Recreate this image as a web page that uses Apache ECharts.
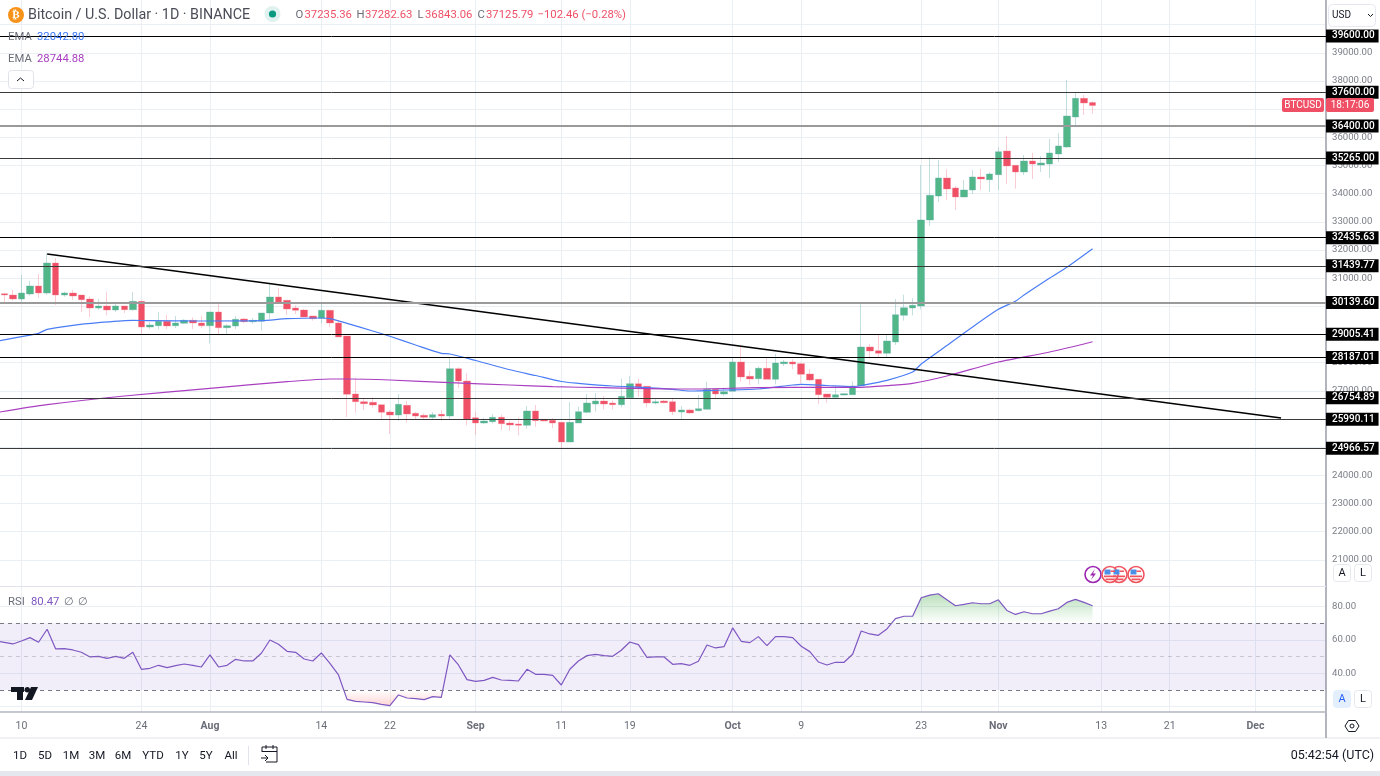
<!DOCTYPE html>
<html>
<head>
<meta charset="utf-8">
<title>BTCUSD</title>
<style>
  html, body { margin: 0; padding: 0; background: #fff; }
  #chart { width: 1380px; height: 776px; }
</style>
<script src="https://cdn.jsdelivr.net/npm/echarts@6/dist/echarts.min.js"></script>
</head>
<body>
<div id="chart"></div>
<script>
// x axis is days counted from 10 Jul 2023, the first candle is 8 Jul
const firstDay = -2
const tickDays = [0, 14, 22, 35, 43, 53, 63, 71, 83, 91, 105, 114, 126, 134, 144]
const tickLabels = ['10', '24', 'Aug', '14', '22', 'Sep', '11', '19', 'Oct', '9', '23', 'Nov', '13', '21', 'Dec']
const priceTicks = [21000, 22000, 23000, 24000, 25000, 26000, 27000, 28000, 29000, 30000, 31000, 32000, 33000, 34000, 35000, 36000, 37000, 38000, 39000, 40000]
const rsiTicks = [20, 40, 60, 80]
const rsiTickLabels = [40, 60, 80]
const levels = [39600, 37600, 36400, 35265, 32435.63, 31439.77, 30139.6, 29005.41, 28187.01, 26754.89, 25990.11, 24966.57]

// open, close, low, high
const candles = [
  [30450, 30403, 30131, 30470], [30403, 30261, 30202, 30580], [30261, 30474, 30107, 31113], [30439, 30722, 30379, 30900],
  [30722, 30474, 30308, 31148], [30474, 31539, 30403, 31882], [31539, 30403, 30048, 31716], [30403, 30474, 30344, 30521],
  [30474, 30368, 30226, 30580], [30403, 30237, 29800, 30403], [30261, 29942, 29622, 30344], [29942, 30013, 29871, 30261],
  [30013, 29871, 29681, 30521], [29871, 30013, 29800, 30155], [30013, 29883, 29764, 30013], [29883, 30178, 29847, 30510],
  [30178, 29267, 29019, 30178], [29267, 29338, 29196, 29445], [29315, 29469, 29185, 29800], [29469, 29303, 29196, 29693],
  [29315, 29409, 29232, 29658], [29397, 29504, 29374, 29540], [29504, 29409, 29196, 29610], [29409, 29315, 29232, 29658],
  [29315, 29800, 28688, 29800], [29800, 29244, 29019, 30131], [29244, 29315, 29019, 29374], [29303, 29540, 29196, 29658],
  [29551, 29457, 29397, 29587], [29457, 29504, 29374, 29587], [29469, 29764, 29137, 29764], [29764, 30332, 29540, 30793],
  [30332, 30155, 30131, 30651], [30214, 29906, 29693, 30214], [29942, 29859, 29729, 30036], [29871, 29622, 29622, 29906],
  [29658, 29563, 29492, 29658], [29575, 29859, 29397, 30084], [29859, 29409, 29267, 29859], [29409, 28912, 28912, 29516],
  [28948, 26878, 26073, 28948], [26889, 26616, 26226, 27456], [26616, 26546, 26321, 26735], [26593, 26498, 26404, 26759],
  [26510, 26238, 25990, 26510], [26250, 26143, 25469, 26321], [26143, 26522, 25942, 26889], [26486, 26179, 25871, 26640],
  [26202, 26108, 25990, 26250], [26132, 26061, 25990, 26202], [26061, 26155, 25990, 26250], [26167, 26108, 25942, 26321],
  [26108, 27788, 25990, 28166], [27788, 27350, 27102, 27835], [27350, 25990, 25777, 27622], [26049, 25859, 25434, 26262],
  [25859, 25930, 25836, 26049], [25907, 26061, 25848, 26179], [26061, 25836, 25611, 26155], [25859, 25788, 25587, 25942],
  [25824, 25777, 25422, 26061], [25777, 26285, 25658, 26463], [26285, 25942, 25729, 26498], [25990, 25930, 25917, 26000],
  [25954, 25859, 25682, 26037], [25883, 25185, 24960, 25883], [25185, 25883, 25185, 26605], [25859, 26262, 25859, 26439],
  [26238, 26569, 26202, 26889], [26534, 26640, 26262, 26924], [26640, 26534, 26344, 26818], [26569, 26510, 26344, 26652],
  [26510, 26806, 26415, 27433], [26758, 27255, 26758, 27527], [27255, 27125, 26794, 27433], [27161, 26569, 26415, 27161],
  [26569, 26616, 26522, 26699], [26640, 26581, 26557, 26676], [26616, 26262, 26143, 26735], [26250, 26321, 25990, 26463],
  [26321, 26214, 26190, 26344], [26298, 26369, 26274, 26854], [26345, 27055, 26345, 27327], [27055, 26889, 26700, 27055],
  [26889, 26972, 26830, 27114], [26984, 28025, 26984, 28190], [28025, 27493, 27327, 28592], [27516, 27422, 27209, 27705],
  [27433, 27800, 27232, 27859], [27800, 27410, 27410, 28155], [27410, 27989, 27232, 28309], [27966, 28025, 27883, 28096],
  [28025, 27954, 27765, 28119], [27966, 27587, 27268, 28001], [27599, 27386, 27339, 27776], [27410, 26865, 26534, 27410],
  [26889, 26771, 26581, 26889], [26771, 26865, 26723, 27173], [26853, 26901, 26840, 26912], [26865, 27173, 26865, 27339],
  [27173, 28557, 27173, 30131], [28557, 28415, 28155, 28664], [28427, 28332, 28190, 28983], [28332, 28770, 28190, 28983],
  [28735, 29705, 28628, 30261], [29681, 29953, 29492, 30414], [29941, 30036, 29681, 30284], [30014, 33066, 29896, 35018],
  [33066, 33942, 32854, 35279], [33918, 34557, 33705, 35196], [34557, 34167, 33776, 34865], [34202, 33883, 33421, 34273],
  [33883, 34131, 33883, 34486], [34131, 34592, 33989, 34841], [34592, 34522, 34131, 34876], [34498, 34699, 34060, 34770],
  [34675, 35492, 34131, 35645], [35515, 34983, 34344, 36048], [35007, 34770, 34179, 35007], [34770, 35160, 34664, 35373],
  [35160, 35054, 34522, 35444], [35018, 35089, 34770, 35338], [35054, 35444, 34557, 35941], [35409, 35693, 35125, 36154],
  [35657, 36757, 35622, 38035], [36722, 37384, 36367, 37586], [37384, 37219, 36793, 37503], [37235.36, 37125.79, 36843.06, 37282.63]
]

// day, value
const emaFast = [
  [-3, 28752], [0, 28923], [2, 29043], [3, 29185], [6, 29327], [9, 29420], [13, 29505], [15, 29491], [21, 29480], [28, 29491],
  [31, 29562], [35, 29586], [36, 29562], [38, 29398], [41, 29125], [43, 28937], [46, 28628], [49, 28333], [50, 28308], [53, 28078],
  [57, 27751], [60, 27545], [63, 27332], [65, 27268], [69, 27172], [73, 27116], [76, 27055], [78, 26995], [82, 27030], [86, 27066],
  [90, 27208], [91, 27233], [94, 27190], [97, 27148], [98, 27190], [101, 27375], [104, 27669], [105, 27953], [108, 28610], [111, 29267],
  [114, 29895], [116, 30183], [117, 30403], [120, 31006], [122, 31386], [125, 32042.8]
]
const emaSlow = [
  [-3, 26225], [3, 26509], [12, 26818], [22, 27091], [31, 27325], [36, 27421], [38, 27421], [43, 27386], [50, 27290], [57, 27208],
  [62, 27148], [68, 27112], [78, 27066], [86, 27112], [94, 27126], [98, 27126], [101, 27183], [104, 27268], [108, 27528], [114, 28025],
  [120, 28380], [125, 28744.88]
]
const trendLine = [[3, 31858], [147, 26036]]

// starts one day left of the first candle so the line runs off the pane
const rsiFirstDay = -3
const rsiValues = [
  59.4, 58.6, 57.6, 59.4, 61.4, 58.6, 66.4, 54.6, 54.8, 54, 52.6, 49.8, 50.2, 49, 50.2, 49, 52.6,
  42.4, 43, 44.8, 43.4, 44.6, 45.6, 44.8, 43.8, 51, 43.8, 44.8, 48.4, 47.4, 47.4, 52, 60,
  57.4, 53.2, 52.6, 48.6, 47.4, 52.2, 46, 39, 24.4, 23.2, 22.8, 22.4, 21.4, 20.6, 27, 25.2,
  24.8, 24.2, 26, 25.6, 51, 45, 36.2, 35.2, 35.8, 37.6, 36, 35.8, 35.4, 42.4, 39.4, 39.4,
  38.8, 33, 42.4, 47.4, 50.6, 51.4, 50.6, 50.2, 53.8, 58.8, 57.2, 49.6, 49.8, 49.8, 45.4, 45.8,
  44.8, 47.2, 57, 55.2, 56, 67.2, 59.2, 58.4, 62, 56.6, 62, 62, 61.4, 56.2, 53, 46.8, 45, 46.6,
  46.6, 51.4, 65.4, 63.6, 62.8, 66.6, 72.8, 74.2, 74.2, 85.3, 86.9, 87.7, 84.1, 80.5, 81.3, 82.3,
  81.7, 81.7, 84.1, 77.7, 75.3, 76.9, 75.7, 75.7, 77.3, 78.7, 82.5, 84.3, 82.5, 80.47
]

const GREEN = '#52b788'
const RED = '#ef5066'
const GRID = '#e9eff3'
const GRAY = '#6a6d78'
const FONT = 'Roboto, sans-serif'

// rsi points on one side of a level, with the crossing points added
function rsiBeyond (level, sign) {
  const pts = []
  rsiValues.forEach((v, i) => {
    const d = rsiFirstDay + i
    const inside = (v - level) * sign > 0
    const prev = rsiValues[i - 1]
    if (i > 0 && inside !== ((prev - level) * sign > 0)) {
      pts.push([d - 1 + (level - prev) / (v - prev), level])
      if (!inside) pts.push([d, null])
    }
    if (inside) pts.push([d, v])
  })
  return pts
}

function txt (x, y, text, fill, size, opt) {
  return {
    type: 'text',
    z: 100,
    style: Object.assign({
      x: x, y: y + 1, text: text, fill: fill, font: (size || 12) + 'px ' + FONT,
      textVerticalAlign: 'middle'
    }, opt || {})
  }
}
function box (x, y, w, h, fill, stroke, r) {
  return {
    type: 'rect',
    z: 90,
    shape: { x: x, y: y, width: w, height: h, r: r || 0 },
    style: { fill: fill || 'none', stroke: stroke || 'none', lineWidth: 1 }
  }
}
function flagIcon (x, y) {
  return [
    { type: 'circle', z: 95, shape: { cx: x, cy: y, r: 8 }, style: { fill: '#fff', stroke: '#f0555f', lineWidth: 1.6 } },
    { type: 'rect', z: 96, shape: { x: x - 5.5, y: y - 5, width: 6, height: 5 }, style: { fill: '#4a90e8' } },
    { type: 'rect', z: 96, shape: { x: x + 0.5, y: y - 4, width: 4.5, height: 1.5 }, style: { fill: '#f0555f' } },
    { type: 'rect', z: 96, shape: { x: x - 6, y: y + 1, width: 12, height: 1.7 }, style: { fill: '#f0555f' } },
    { type: 'rect', z: 96, shape: { x: x - 4.5, y: y + 4, width: 9, height: 1.7 }, style: { fill: '#f0555f' } }
  ]
}

const rangeButtons = [['1D', 20], ['5D', 45], ['1M', 71], ['3M', 97], ['6M', 123], ['YTD', 153], ['1Y', 182], ['5Y', 206], ['All', 231]]

const chrome = [
  // bottom toolbar
  { type: 'rect', z: 80, shape: { x: 0, y: 771, width: 1380, height: 5 }, style: { fill: '#e6e8ef' } },
  { type: 'line', z: 80, shape: { x1: 0, y1: 738, x2: 1380, y2: 738 }, style: { stroke: '#e0e3eb', lineWidth: 1 } },
  { type: 'line', z: 80, shape: { x1: 0, y1: 586.5, x2: 1326, y2: 586.5 }, style: { stroke: '#e0e3eb', lineWidth: 1 } },
  { type: 'line', z: 80, shape: { x1: 1326, y1: 712, x2: 1326, y2: 738 }, style: { stroke: '#b2b5be', lineWidth: 2 } },
  { type: 'line', z: 80, shape: { x1: 248.5, y1: 746, x2: 248.5, y2: 765 }, style: { stroke: '#e0e3eb', lineWidth: 1 } },
  // calendar
  { type: 'polyline', z: 90, shape: { points: [[262, 752], [262, 747], [277, 747], [277, 762], [266, 762]] }, style: { fill: 'none', stroke: '#131722', lineWidth: 1 } },
  { type: 'line', z: 90, shape: { x1: 262, y1: 751.5, x2: 277, y2: 751.5 }, style: { stroke: '#131722', lineWidth: 1 } },
  { type: 'line', z: 90, shape: { x1: 266, y1: 745, x2: 266, y2: 749 }, style: { stroke: '#131722', lineWidth: 1 } },
  { type: 'line', z: 90, shape: { x1: 273, y1: 745, x2: 273, y2: 749 }, style: { stroke: '#131722', lineWidth: 1 } },
  { type: 'polyline', z: 90, shape: { points: [[261, 758], [268, 758], [265, 755], [268, 758], [265, 761]] }, style: { fill: 'none', stroke: '#131722', lineWidth: 1 } },
  txt(1374, 755, '05:42:54 (UTC)', '#131722', 12.5, { textAlign: 'right' }),
  // settings hexagon
  { type: 'polygon', z: 90, shape: { points: [[1345, 726], [1348.5, 720.5], [1355.5, 720.5], [1359, 726], [1355.5, 731.5], [1348.5, 731.5]] }, style: { fill: 'none', stroke: '#131722', lineWidth: 1 } },
  { type: 'circle', z: 90, shape: { cx: 1352, cy: 726, r: 2 }, style: { fill: 'none', stroke: '#131722', lineWidth: 1 } },
  // header
  { type: 'circle', z: 90, shape: { cx: 16, cy: 15, r: 8 }, style: { fill: '#f7931a' } },
  txt(16, 14.5, '₿', '#fff', 11, { textAlign: 'center', font: 'bold 11px "DejaVu Sans"' }),
  txt(28, 14.5, 'Bitcoin / U.S. Dollar · 1D · BINANCE', '#4a4d57', 14.3),
  { type: 'circle', z: 90, shape: { cx: 272.5, cy: 14, r: 8 }, style: { fill: 'rgba(8,153,129,.13)' } },
  { type: 'circle', z: 91, shape: { cx: 272.5, cy: 14, r: 3.6 }, style: { fill: '#089981' } },
  txt(295.5, 14.5, 'O', GRAY, 11.3), txt(304.5, 14.5, '37235.36', RED, 11.3),
  txt(356.5, 14.5, 'H', GRAY, 11.3), txt(365, 14.5, '37282.63', RED, 11.3),
  txt(417.5, 14.5, 'L', GRAY, 11.3), txt(425, 14.5, '36843.06', RED, 11.3),
  txt(477.5, 14.5, 'C', GRAY, 11.3), txt(486, 14.5, '37125.79', RED, 11.3),
  txt(537.5, 14.5, '−102.46 (−0.28%)', RED, 11.3),
  // study labels
  txt(8, 36, 'EMA', GRAY, 11.3), txt(37, 36, '32042.80', '#3d78f5', 11.3),
  txt(8, 58, 'EMA', GRAY, 11.3), txt(37, 58, '28744.88', '#a93fc0', 11.3),
  box(8.5, 70.5, 25, 18, '#fff', '#e0e3eb', 3),
  { type: 'polyline', z: 95, shape: { points: [[17, 81], [20.5, 78], [24, 81]] }, style: { fill: 'none', stroke: '#131722', lineWidth: 1 } },
  txt(8, 601, 'RSI', GRAY, 11.3), txt(31, 601, '80.47', '#7e57c2', 11.3), txt(64, 601, '∅', GRAY, 11), txt(77.5, 601, '∅', GRAY, 11),
  // watermark
  box(11, 687, 13, 5, '#131722'), box(17, 687, 6, 13, '#131722'),
  { type: 'circle', z: 90, shape: { cx: 27.3, cy: 689.7, r: 2.7 }, style: { fill: '#131722' } },
  { type: 'polygon', z: 90, shape: { points: [[31, 687], [38, 687], [32, 700], [25, 700]] }, style: { fill: '#131722' } },
  // currency select
  box(1328.5, 4.5, 47, 22, '#fff', '#e6e8ef', 4),
  txt(1332, 14, 'USD', '#131722', 10),
  { type: 'polyline', z: 95, shape: { points: [[1368, 14], [1370.5, 16.5], [1373, 14]] }, style: { fill: 'none', stroke: '#131722', lineWidth: 1 } },
  // last price tag
  box(1282, 98, 42, 14, RED, null, 2),
  txt(1303, 104.5, 'BTCUSD', '#fff', 10, { textAlign: 'center' }),
  box(1326, 98, 48, 14, RED, null, 2),
  txt(1350, 104.5, '18:17:06', '#fff', 10, { textAlign: 'center' }),
  // scale buttons
  box(1333.5, 564.5, 17, 17, '#fff', '#e6e8ef', 3), txt(1342, 572.5, 'A', '#131722', 11, { textAlign: 'center' }),
  box(1354.5, 564.5, 17, 17, '#fff', '#e6e8ef', 3), txt(1363, 572.5, 'L', '#131722', 11, { textAlign: 'center' }),
  box(1333.5, 690.5, 17, 17, '#e3effd', '#e3effd', 3), txt(1342, 698.5, 'A', '#2962ff', 11, { textAlign: 'center' }),
  box(1354.5, 690.5, 17, 17, '#fff', '#e6e8ef', 3), txt(1363, 698.5, 'L', '#131722', 11, { textAlign: 'center' }),
  // events
  { type: 'circle', z: 95, shape: { cx: 1093, cy: 574.5, r: 8 }, style: { fill: '#fff', stroke: '#9c27b0', lineWidth: 1.6 } },
  { type: 'polygon', z: 96, shape: { points: [[1095, 569], [1090, 575.5], [1093, 575.5], [1091, 580], [1096, 573.5], [1093, 573.5]] }, style: { fill: '#9c27b0' } }
].concat(flagIcon(1119, 574.5), flagIcon(1110, 574.5), flagIcon(1136, 574.5))

rangeButtons.forEach(b => chrome.push(txt(b[1], 755, b[0], '#131722', 11.5, { textAlign: 'center' })))

const chart = echarts.init(document.getElementById('chart'))

const xBase = {
  type: 'value',
  min: -2.5,
  max: 152.24,
  axisTick: { show: false, customValues: tickDays },
  splitLine: { show: true, lineStyle: { color: GRID, width: 1 } }
}

// the blurred lines in the picture
function levelLine (v) {
  if (v === 36400 || v === 30139.6) return { color: '#9a9a9a', width: 2 }
  if (v === 32435.63 || v === 29005.41 || v === 28187.01 || v === 39600) return { color: '#000', width: 1 }
  return { color: '#3a3a3a', width: 1 }
}

chart.setOption({
  animation: false,
  backgroundColor: '#fff',
  textStyle: { fontFamily: FONT },
  grid: [
    { left: 0, right: 54, top: 0, height: 586 },
    { left: 0, right: 54, top: 587, height: 125 }
  ],
  xAxis: [
    Object.assign({}, xBase, {
      gridIndex: 0,
      axisLine: { show: false },
      axisLabel: { show: false }
    }),
    Object.assign({}, xBase, {
      gridIndex: 1,
      axisLine: { show: true, onZero: false, lineStyle: { color: '#b2b5be', width: 1.5 } },
      axisLabel: {
        customValues: tickDays,
        color: GRAY,
        fontSize: 10.5,
        margin: 9,
        formatter: v => {
          const s = tickLabels[tickDays.indexOf(v)]
          return /[A-Z]/.test(s) ? '{b|' + s + '}' : s
        },
        rich: { b: { fontWeight: 'bold', fontSize: 10.5, color: GRAY } }
      }
    })
  ],
  yAxis: [
    {
      type: 'value',
      gridIndex: 0,
      position: 'right',
      min: 20073,
      max: 40875,
      axisLine: { show: true, onZero: false, lineStyle: { color: '#b2b5be', width: 2 } },
      axisTick: { show: false, customValues: priceTicks },
      axisLabel: {
        customValues: priceTicks,
        color: '#7b7e88',
        fontSize: 9.6,
        margin: 6,
        padding: [5, 0, 0, 0],
        formatter: v => v.toFixed(2)
      },
      splitLine: { show: true, lineStyle: { color: GRID, width: 1 } }
    },
    {
      type: 'value',
      gridIndex: 1,
      position: 'right',
      min: 16.8,
      max: 91.75,
      axisLine: { show: true, onZero: false, lineStyle: { color: '#b2b5be', width: 2 } },
      axisTick: { show: false, customValues: rsiTicks },
      axisLabel: {
        customValues: rsiTickLabels,
        color: '#7b7e88',
        fontSize: 9.6,
        margin: 6,
        padding: [5, 0, 0, 0],
        formatter: v => v.toFixed(2)
      },
      splitLine: { show: true, lineStyle: { color: GRID, width: 1 } }
    }
  ],
  graphic: { elements: chrome },
  series: [
    {
      name: 'BTCUSD',
      type: 'candlestick',
      barWidth: 7,
      encode: { x: 0, y: [1, 2, 3, 4] },
      data: candles.map((c, i) => [firstDay + i, c[0], c[1], c[2], c[3]]),
      itemStyle: {
        color: GREEN,
        color0: RED,
        borderColor: 'rgba(96,170,170,.38)',
        borderColor0: 'rgba(245,120,140,.38)',
        borderWidth: 1
      },
      markLine: {
        silent: true,
        symbol: 'none',
        animation: false,
        label: {
          position: 'end',
          distance: 0,
          formatter: p => p.value.toFixed(2),
          color: '#fff',
          backgroundColor: '#000',
          fontSize: 10,
          fontWeight: 500,
          padding: [3, 4, 0, 6]
        },
        emphasis: { disabled: true },
        data: levels.map(v => ({ yAxis: v, lineStyle: Object.assign({ type: 'solid' }, levelLine(v)) }))
      }
    },
    {
      name: 'EMA fast',
      type: 'line',
      data: emaFast,
      showSymbol: false,
      smooth: 0.25,
      lineStyle: { color: '#4a7df5', width: 1.2 }
    },
    {
      name: 'EMA slow',
      type: 'line',
      data: emaSlow,
      showSymbol: false,
      smooth: 0.25,
      lineStyle: { color: '#a93fc0', width: 1.2 }
    },
    {
      name: 'Trend',
      type: 'line',
      data: trendLine,
      showSymbol: false,
      lineStyle: { color: '#000', width: 1.6 }
    },
    {
      name: 'Overbought',
      type: 'line',
      xAxisIndex: 1,
      yAxisIndex: 1,
      data: rsiBeyond(70, 1),
      showSymbol: false,
      lineStyle: { width: 0 },
      areaStyle: {
        origin: 70,
        color: new echarts.graphic.LinearGradient(0, 0, 0, 1, [
          { offset: 0, color: 'rgba(76,175,80,.55)' },
          { offset: 1, color: 'rgba(76,175,80,0)' }
        ])
      }
    },
    {
      name: 'Oversold',
      type: 'line',
      xAxisIndex: 1,
      yAxisIndex: 1,
      data: rsiBeyond(30, -1),
      showSymbol: false,
      lineStyle: { width: 0 },
      areaStyle: {
        origin: 30,
        color: new echarts.graphic.LinearGradient(0, 0, 0, 1, [
          { offset: 0, color: 'rgba(255,82,82,0)' },
          { offset: 1, color: 'rgba(255,82,82,.35)' }
        ])
      }
    },
    {
      name: 'RSI',
      type: 'line',
      xAxisIndex: 1,
      yAxisIndex: 1,
      data: rsiValues.map((v, i) => [rsiFirstDay + i, v]),
      showSymbol: false,
      lineStyle: { color: '#7e57c2', width: 1.2 },
      markArea: {
        silent: true,
        itemStyle: { color: 'rgba(126,87,194,.1)' },
        data: [[{ yAxis: 70 }, { yAxis: 30 }]]
      },
      markLine: {
        silent: true,
        symbol: 'none',
        label: { show: false },
        lineStyle: { color: '#787b86', width: 1, type: [4, 4] },
        data: [
          { yAxis: 70 },
          { yAxis: 50, lineStyle: { color: 'rgba(120,123,134,.35)' } },
          { yAxis: 30 }
        ]
      }
    }
  ]
})
</script>
</body>
</html>
